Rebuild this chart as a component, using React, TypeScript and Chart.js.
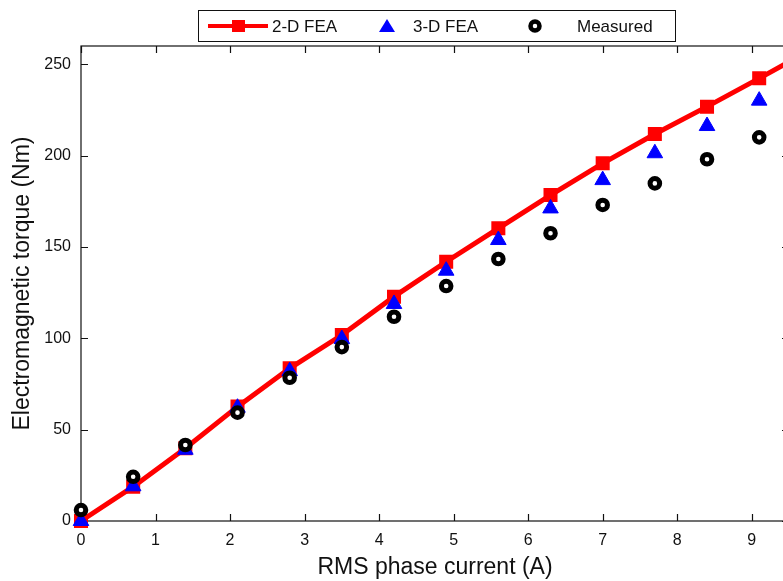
import React, { useEffect, useRef } from "react";
import { Chart, registerables } from "chart.js";

Chart.register(...registerables);

// ---- data ----
const currents = [0, 0.7, 1.4, 2.1, 2.8, 3.5, 4.2, 4.9, 5.6, 6.3, 7.0, 7.7, 8.4, 9.1, 9.8];
const fea2d = [0, 18.8, 39.8, 62.6, 83.6, 101.8, 122.8, 141.9, 160.2, 178.4, 195.8, 211.8, 226.8, 242.3, 258];
const fea3d = [0, 19, 39, 62, 82, 99.6, 118.8, 137, 153.8, 171.1, 186.6, 201.3, 216.2, 230.1];
const measured = [6, 24.2, 41.6, 59.3, 78.4, 95.2, 111.8, 128.6, 143.4, 157.5, 173.0, 184.8, 198.0, 210.0];
const xTicks = [0, 1, 2, 3, 4, 5, 6, 7, 8, 9];
const yTicks = [0, 50, 100, 150, 200, 250];
const seriesNames = ["2-D FEA", "3-D FEA", "Measured"];
const xTitle = "RMS phase current (A)";
const yTitle = "Electromagnetic torque (Nm)";

const FONT = "'Liberation Sans', Arial, Helvetica, sans-serif";

const toPoints = (ys: number[]) => ys.map((y, i) => ({ x: currents[i], y }));

const boxPlugin = {
  id: "matlabBox",
  beforeDatasetsDraw(chart: any) {
    const { ctx, chartArea } = chart;
    const { left, right, top, bottom } = chartArea;
    const xs = chart.scales.x;
    const ys = chart.scales.y;
    const tl = 7;
    ctx.save();
    ctx.strokeStyle = "#111";
    ctx.lineWidth = 1.2;
    ctx.strokeRect(left, top, right - left, bottom - top);
    ctx.beginPath();
    xTicks.forEach((v) => {
      const px = Math.round(xs.getPixelForValue(v)) + 0.5;
      ctx.moveTo(px, bottom);
      ctx.lineTo(px, bottom - tl);
      ctx.moveTo(px, top);
      ctx.lineTo(px, top + tl);
    });
    yTicks.forEach((v) => {
      const py = Math.round(ys.getPixelForValue(v)) + 0.5;
      ctx.moveTo(left, py);
      ctx.lineTo(left + tl, py);
      ctx.moveTo(right, py);
      ctx.lineTo(right - tl, py);
    });
    ctx.stroke();
    ctx.restore();
  },
};

const legendPlugin = {
  id: "matlabLegend",
  afterDraw(chart: any) {
    const { ctx } = chart;
    const byLabel = (l: string) => chart.data.datasets.find((d: any) => d.label === l);
    const d2 = byLabel(seriesNames[0]);
    const d3 = byLabel(seriesNames[1]);
    const dm = byLabel(seriesNames[2]);
    ctx.save();
    ctx.fillStyle = "#fff";
    ctx.fillRect(198.5, 10.5, 477, 31);
    ctx.strokeStyle = "#111";
    ctx.lineWidth = 1;
    ctx.strokeRect(198.5, 10.5, 477, 31);
    const cy = 26;
    // 2-D FEA: line + square
    ctx.strokeStyle = d2.borderColor;
    ctx.lineWidth = 4;
    ctx.beginPath();
    ctx.moveTo(208, cy);
    ctx.lineTo(268, cy);
    ctx.stroke();
    ctx.fillStyle = d2.pointBackgroundColor;
    ctx.fillRect(232, cy - 6, 13, 12);
    // 3-D FEA: triangle
    ctx.fillStyle = d3.pointBackgroundColor;
    ctx.beginPath();
    ctx.moveTo(387, cy - 7);
    ctx.lineTo(395, cy + 6);
    ctx.lineTo(379, cy + 6);
    ctx.closePath();
    ctx.fill();
    // Measured: ring
    ctx.strokeStyle = dm.pointBorderColor;
    ctx.fillStyle = "#fff";
    ctx.lineWidth = 4.5;
    ctx.beginPath();
    ctx.arc(535, cy, 4.5, 0, Math.PI * 2);
    ctx.fill();
    ctx.stroke();
    // texts
    ctx.fillStyle = "#111";
    ctx.font = `17px ${FONT}`;
    ctx.textBaseline = "middle";
    ctx.textAlign = "left";
    ctx.fillText(seriesNames[0], 272, cy + 1);
    ctx.fillText(seriesNames[1], 413, cy + 1);
    ctx.fillText(seriesNames[2], 577, cy + 1);
    ctx.restore();
  },
};

export default function App() {
  const ref = useRef<HTMLCanvasElement | null>(null);
  useEffect(() => {
    if (!ref.current) return;
    const clip = { left: 20, top: 20, right: 0, bottom: 20 };
    const chart = new Chart(ref.current, {
      type: "scatter",
      data: {
        datasets: [
          {
            label: seriesNames[2],
            data: toPoints(measured),
            showLine: false,
            pointStyle: "circle",
            pointRadius: 4.8,
            pointBorderWidth: 5,
            pointBackgroundColor: "#ffffff",
            pointBorderColor: "#000000",
            borderColor: "#000000",
            backgroundColor: "#ffffff",
            order: 1,
            clip,
          } as any,
          {
            label: seriesNames[1],
            data: toPoints(fea3d),
            showLine: false,
            pointStyle: "triangle",
            pointRadius: 9,
            pointBorderWidth: 1,
            pointBackgroundColor: "#0000ff",
            pointBorderColor: "#0000ff",
            borderColor: "#0000ff",
            backgroundColor: "#0000ff",
            order: 2,
            clip,
          } as any,
          {
            label: seriesNames[0],
            data: toPoints(fea2d),
            showLine: true,
            borderColor: "#ff0000",
            backgroundColor: "#ff0000",
            borderWidth: 5,
            tension: 0,
            pointStyle: "rect",
            pointRadius: 8.5,
            pointBorderWidth: 2,
            pointBackgroundColor: "#ff0000",
            pointBorderColor: "#ff0000",
            order: 3,
            clip,
          } as any,
        ],
      },
      options: {
        responsive: false,
        animation: false,
        devicePixelRatio: 1,
        layout: { padding: { left: 0, right: 11, top: 46, bottom: 0 } },
        plugins: {
          legend: { display: false },
          tooltip: { enabled: false },
          title: { display: false },
        },
        scales: {
          x: {
            type: "linear",
            min: 0,
            max: 9.5,
            grid: { display: false, drawTicks: false },
            border: { display: false },
            ticks: {
              stepSize: 1,
              includeBounds: false,
              padding: 10,
              color: "#111",
              font: { family: FONT, size: 16 },
            },
            title: {
              display: true,
              text: xTitle,
              color: "#111",
              font: { family: FONT, size: 23 },
              padding: { top: 0, bottom: 0 },
            },
            afterFit: (s: any) => {
              s.height = 60;
            },
          },
          y: {
            type: "linear",
            min: 0,
            max: 260,
            grid: { display: false, drawTicks: false },
            border: { display: false },
            ticks: {
              stepSize: 50,
              includeBounds: false,
              padding: 10,
              color: "#111",
              font: { family: FONT, size: 16 },
            },
            title: {
              display: true,
              text: yTitle,
              color: "#111",
              font: { family: FONT, size: 23 },
              padding: { top: 9, bottom: 0 },
            },
            afterFit: (s: any) => {
              s.width = 81;
            },
          },
        },
      },
      plugins: [boxPlugin, legendPlugin],
    });
    return () => chart.destroy();
  }, []);
  return (
    <div
      style={{
        position: "fixed",
        left: 0,
        top: 0,
        width: 800,
        height: 581,
        background: "#fff",
        overflow: "hidden",
      }}
    >
      <canvas ref={ref} width={800} height={581} style={{ width: 800, height: 581, display: "block" }} />
    </div>
  );
}
